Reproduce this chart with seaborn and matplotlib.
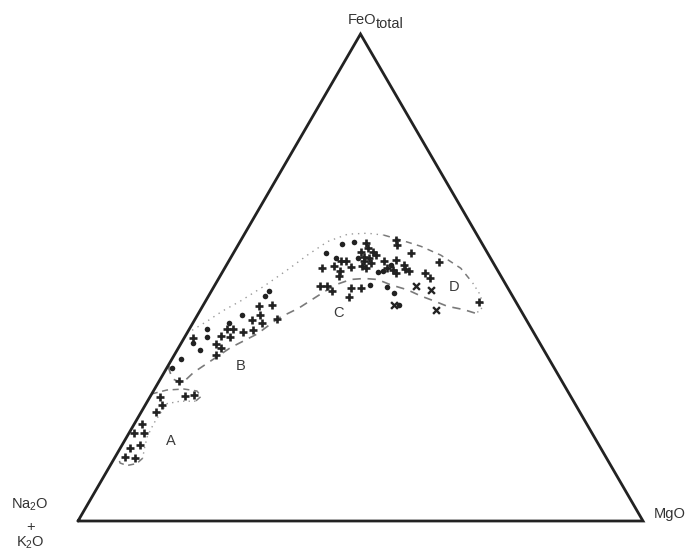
import numpy as np
import pandas as pd
import matplotlib
matplotlib.use("Agg")
import matplotlib.pyplot as plt
import seaborn as sns

# AFM diagram: FeO(total) and MgO in percent, alkalis (Na2O + K2O) are the remainder.

# Field A (plus signs)
feo_a_plus = [13.1, 12.9, 14.9, 15.7, 18.0, 18.0, 20.0, 22.3, 23.8, 25.5, 25.6, 25.9]
mgo_a_plus = [1.8, 3.7, 1.8, 3.2, 1.0, 2.6, 1.3, 2.7, 3.0, 1.7, 6.2, 7.6]

# Field B
feo_b_dot = [31.5, 33.3, 35.2, 36.6, 39.4, 37.7, 40.7, 42.3, 47.3, 46.2]
mgo_b_dot = [0.9, 1.5, 4.0, 2.1, 3.2, 3.9, 6.3, 7.9, 10.2, 10.0]
feo_b_plus = [28.7, 37.5, 36.3, 35.6, 34.0, 38.0, 39.4, 39.4, 37.8, 38.9, 41.2,
              39.3, 44.1, 42.4, 40.7, 44.3, 41.5]
mgo_b_plus = [3.6, 1.6, 6.2, 7.5, 7.5, 6.3, 6.6, 7.7, 8.0, 9.7, 10.2,
              11.3, 10.0, 11.1, 12.2, 12.2, 14.5]

# Fields C and D
feo_cd_dot = [56.8, 55.0, 54.1, 57.2, 54.0, 51.1, 51.3, 48.5, 48.1, 46.8, 44.3, 52.6]
mgo_cd_dot = [18.3, 16.4, 18.7, 20.2, 22.5, 27.6, 28.3, 27.4, 30.7, 32.5, 34.6, 29.1]
feo_cd_plus = [57.0, 56.0, 55.3, 55.3, 54.3, 54.0, 54.6, 53.3, 53.0, 51.9,
               52.3, 53.3, 53.3, 52.3, 51.9, 52.1, 51.3, 50.4, 53.3, 51.9,
               51.6, 53.6, 50.9, 52.6, 51.8, 51.3, 57.7, 56.7, 55.0, 50.9,
               49.9, 53.2, 48.2, 48.2, 47.2, 47.9, 47.9, 46.0, 44.9]
mgo_cd_plus = [22.4, 23.3, 22.4, 24.5, 23.4, 24.5, 25.4, 24.0, 25.3, 25.0,
               24.2, 19.9, 20.7, 19.2, 17.3, 22.2, 20.8, 21.0, 27.5, 28.8,
               29.9, 29.4, 30.8, 31.4, 31.9, 33.0, 27.4, 28.1, 31.4, 35.9,
               37.3, 37.3, 18.8, 20.0, 21.4, 24.3, 26.1, 25.0, 48.5]
feo_cd_x = [48.2, 47.5, 44.3, 43.4]
mgo_cd_x = [35.7, 38.7, 33.8, 41.6]

# Outline of field A
feo_env_a = [26.1, 26.9, 27.1, 26.7, 25.6, 24.6, 24.6, 24.1, 22.1, 20.0, 17.3,
             14.9, 12.9, 11.8, 11.4, 11.9, 13.2]
mgo_env_a = [0.0, 2.3, 5.2, 7.7, 9.0, 8.5, 5.8, 3.7, 3.5, 3.4, 3.6,
             4.3, 5.0, 4.5, 3.0, 1.5, 0.5]

# Outline of fields B-C-D: upper edge, rounded D end, lower edge
feo_env_up = [38.5, 41.1, 43.1, 45.2, 48.2, 51.6, 54.6, 57.4, 58.9, 59.1, 58.7,
              57.7, 56.4, 54.6, 51.9, 48.9, 46.8, 44.8, 43.2, 42.7]
mgo_env_up = [0.0, 2.4, 4.0, 6.2, 8.8, 11.3, 13.3, 15.5, 18.3, 21.7, 24.8,
              28.3, 32.5, 36.9, 41.8, 45.4, 47.6, 49.3, 49.7, 48.9]
feo_env_low = [42.7, 43.4, 44.1, 45.2, 46.2, 47.5, 48.5, 49.6, 49.8, 49.6, 48.5,
               46.2, 43.7, 41.7, 38.4, 35.6, 33.3, 30.5, 28.3, 29.2, 31.2, 32.2]
mgo_env_low = [48.9, 46.6, 43.3, 40.4, 37.6, 34.5, 31.1, 28.2, 25.8, 23.5, 21.3,
               19.3, 17.2, 14.7, 12.5, 9.2, 7.4, 5.2, 4.3, 2.1, 0.5, 0.0]

field_labels = ["A", "B", "C", "D"]
feo_labels = [16.5, 31.8, 42.8, 48.1]
mgo_labels = [8.2, 12.9, 24.7, 42.5]


def to_xy(feo, mgo):
    f = np.asarray(feo, float) / 100.0
    m = np.asarray(mgo, float) / 100.0
    return m + f / 2.0, f * np.sqrt(3) / 2.0


sns.set_style("white")
plt.rcParams["font.family"] = ["Liberation Sans", "DejaVu Sans"]
plt.rcParams["mathtext.default"] = "regular"

fig = plt.figure(figsize=(6.86, 5.53), dpi=100)
ax = fig.add_axes([0, 0, 1, 1])
ax.set_xlim(-0.13805, 1.07611)
ax.set_ylim(-0.05691, 0.92655)
ax.axis("off")

ink = "#222222"
line_grey = "#7a7a7a"
dot_grey = "#9a9a9a"

# Triangle frame
tx, ty = to_xy([0, 0, 100, 0], [0, 100, 0, 0])
ax.plot(tx, ty, color=ink, lw=2.0, solid_joinstyle="miter", zorder=3)

# Field outlines
ex, ey = to_xy(feo_env_a, mgo_env_a)
ax.plot(ex[:6], ey[:6], color=line_grey, lw=1.1, ls=(0, (4, 3)))
ax.plot(ex[5:13], ey[5:13], color=dot_grey, lw=1.0, ls=(0, (1, 3)))
ax.plot(ex[12:], ey[12:], color=line_grey, lw=1.1, ls=(0, (4, 3)))

ux, uy = to_xy(feo_env_up, mgo_env_up)
ax.plot(ux[:11], uy[:11], color=dot_grey, lw=1.0, ls=(0, (1, 3.5)))
ax.plot(ux[10:16], uy[10:16], color=line_grey, lw=1.1, ls=(0, (4, 3.5)))
ax.plot(ux[15:], uy[15:], color=dot_grey, lw=1.0, ls=(0, (1, 3)))
lx, ly = to_xy(feo_env_low, mgo_env_low)
ax.plot(lx, ly, color=line_grey, lw=1.2, ls=(0, (5, 4)))

# Samples
frames = []
for feo, mgo, kind in [
    (feo_a_plus, mgo_a_plus, "plus"),
    (feo_b_plus, mgo_b_plus, "plus"),
    (feo_cd_plus, mgo_cd_plus, "plus"),
    (feo_b_dot, mgo_b_dot, "dot"),
    (feo_cd_dot, mgo_cd_dot, "dot"),
    (feo_cd_x, mgo_cd_x, "cross"),
]:
    x, y = to_xy(feo, mgo)
    frames.append(pd.DataFrame({"x": x, "y": y, "kind": kind}))
df = pd.concat(frames, ignore_index=True)

sns.scatterplot(data=df[df.kind == "plus"], x="x", y="y", marker="+", s=38,
                color=ink, linewidth=1.9, ax=ax, legend=False, zorder=4)
sns.scatterplot(data=df[df.kind == "dot"], x="x", y="y", marker="o", s=16,
                color=ink, edgecolor=ink, linewidth=0, ax=ax, legend=False, zorder=4)
sns.scatterplot(data=df[df.kind == "cross"], x="x", y="y", marker="x", s=24,
                color=ink, linewidth=1.7, ax=ax, legend=False, zorder=4)

# Field letters
for lab, f, m in zip(field_labels, feo_labels, mgo_labels):
    x, y = to_xy([f], [m])
    ax.text(x[0], y[0], lab, ha="center", va="center", fontsize=10.5, color="#3a3a3a")

# Apex labels (offsets in points)
txt = "#333333"
apex_top = to_xy([100], [0])
ax.annotate("FeO", xy=(apex_top[0][0], apex_top[1][0]), xytext=(-9.5, 7.2),
            textcoords="offset points", ha="left", va="baseline",
            fontsize=10.5, color=txt)
ax.annotate("total", xy=(apex_top[0][0], apex_top[1][0]), xytext=(11.0, 4.0),
            textcoords="offset points", ha="left", va="baseline",
            fontsize=10.5, color=txt)
ax.annotate("MgO", xy=(1.0, 0.0), xytext=(8, 5), textcoords="offset points",
            ha="left", va="center", fontsize=10.5, color=txt)
ax.annotate("Na$_2$O", xy=(0.0, 0.0), xytext=(-34.5, 11.5), textcoords="offset points",
            ha="center", va="center", fontsize=10.5, color=txt)
ax.annotate("+", xy=(0.0, 0.0), xytext=(-34.5, -4.5), textcoords="offset points",
            ha="center", va="center", fontsize=10.5, color=txt)
ax.annotate("K$_2$O", xy=(0.0, 0.0), xytext=(-34.5, -15.5), textcoords="offset points",
            ha="center", va="center", fontsize=10.5, color=txt)

fig.savefig("out.png", dpi=100)
